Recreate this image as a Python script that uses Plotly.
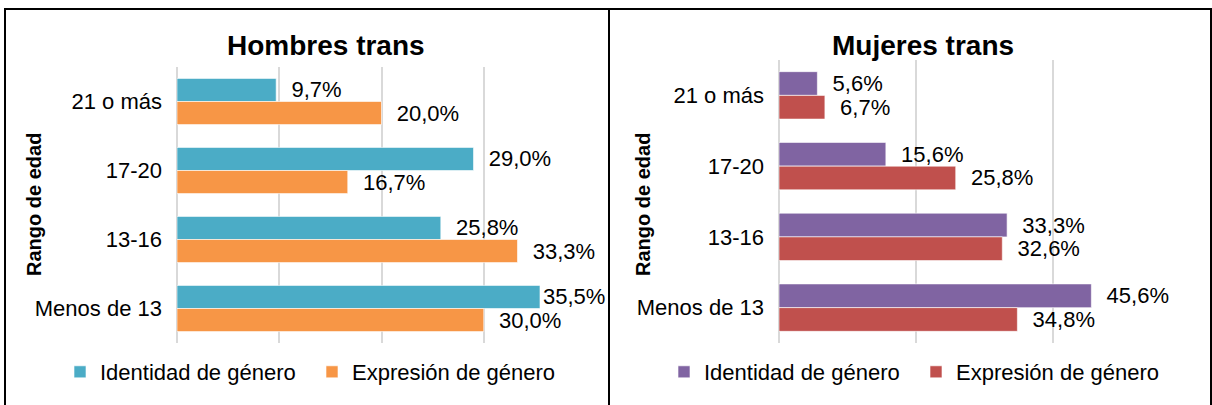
import plotly.graph_objects as go

# Data (percent of each group)
edades = ['21 o más', '17-20', '13-16', 'Menos de 13']
hombres_identidad = [9.7, 29.0, 25.8, 35.5]
hombres_expresion = [20.0, 16.7, 33.3, 30.0]
mujeres_identidad = [5.6, 15.6, 33.3, 45.6]
mujeres_expresion = [6.7, 25.8, 32.6, 34.8]

W, H = 1212, 405
FUENTE = 'Liberation Sans, Arial, sans-serif'


def fx(px):
    return px / W


def fy(py):
    return 1 - py / H


def etiquetas(valores, rango):
    # Spanish decimal comma; labels near the right edge are not pushed out further
    out = []
    for v in valores:
        pad = '' if v / rango > 0.85 else '\u00a0\u00a0'
        out.append(pad + f'{v:.1f}'.replace('.', ',') + '%')
    return out


def barra(valores, nombre, color, xa, ya, leg, rango):
    return go.Bar(
        y=edades, x=valores, orientation='h', name=nombre,
        marker=dict(color=color, line=dict(color='rgba(255,255,255,0.6)', width=1)),
        text=etiquetas(valores, rango), textposition='outside', cliponaxis=False,
        constraintext='none', textfont=dict(family=FUENTE, size=22, color='black'),
        xaxis=xa, yaxis=ya, legend=leg, hoverinfo='x+y',
    )


fig = go.Figure()
fig.add_trace(barra(hombres_identidad, 'Identidad de género', '#4BACC6', 'x', 'y', 'legend', 40))
fig.add_trace(barra(hombres_expresion, 'Expresión de género', '#F79646', 'x', 'y', 'legend', 40))
fig.add_trace(barra(mujeres_identidad, 'Identidad de género', '#8064A2', 'x2', 'y2', 'legend2', 60))
fig.add_trace(barra(mujeres_expresion, 'Expresión de género', '#C0504D', 'x2', 'y2', 'legend2', 60))

eje_x = dict(showgrid=True, gridcolor='#D9D9D9', gridwidth=1.5, showticklabels=False,
             zeroline=True, zerolinecolor='#D9D9D9', zerolinewidth=1.5, showline=False,
             fixedrange=True)
eje_y = dict(type='category', autorange='reversed', showgrid=False, showline=False,
             ticks='', ticklabelstandoff=14,
             tickfont=dict(family=FUENTE, size=22, color='black'))

leyenda = dict(orientation='h', yanchor='middle', xanchor='left', y=fy(372),
               font=dict(family=FUENTE, size=22, color='black'),
               entrywidth=207, entrywidthmode='pixels', itemwidth=30,
               bgcolor='rgba(0,0,0,0)')

fig.update_layout(
    width=W, height=H,
    margin=dict(l=0, r=0, t=0, b=0, autoexpand=False),
    paper_bgcolor='white', plot_bgcolor='white',
    barmode='group', bargap=0.33, bargroupgap=0,
    showlegend=True,
    xaxis=dict(eje_x, domain=[fx(177), fx(586)], range=[0, 40], dtick=10, anchor='y'),
    yaxis=dict(eje_y, domain=[fy(343), fy(67)], anchor='x'),
    xaxis2=dict(eje_x, domain=[fx(779), fx(1190)], range=[0, 60], dtick=20, anchor='y2'),
    yaxis2=dict(eje_y, domain=[fy(343), fy(60)], anchor='x2'),
    legend=dict(leyenda, x=fx(60)),
    legend2=dict(leyenda, x=fx(664)),
)

# Panel titles and axis titles
for texto, x in [('Hombres trans', 326), ('Mujeres trans', 923)]:
    fig.add_annotation(text=f'<b>{texto}</b>', x=fx(x), y=fy(45), xref='paper', yref='paper',
                       xanchor='center', yanchor='middle', showarrow=False,
                       font=dict(family=FUENTE, size=28, color='black'))
for x in [34, 643]:
    fig.add_annotation(text='<b>Rango de edad</b>', x=fx(x), y=fy(205), xref='paper', yref='paper',
                       xanchor='center', yanchor='middle', showarrow=False, textangle=-90,
                       font=dict(family=FUENTE, size=20, color='black'))

# Panel frames
for x0, x1 in [(5, 609), (609, 1211)]:
    fig.add_shape(type='rect', xref='paper', yref='paper', x0=fx(x0), x1=fx(x1),
                  y0=fy(9), y1=fy(415), line=dict(color='black', width=2))

# drop the default body margin so the figure sits at the window's corner
fig.write_html('out.html', config={'displayModeBar': False},
               post_script="document.body.style.margin='0';")
